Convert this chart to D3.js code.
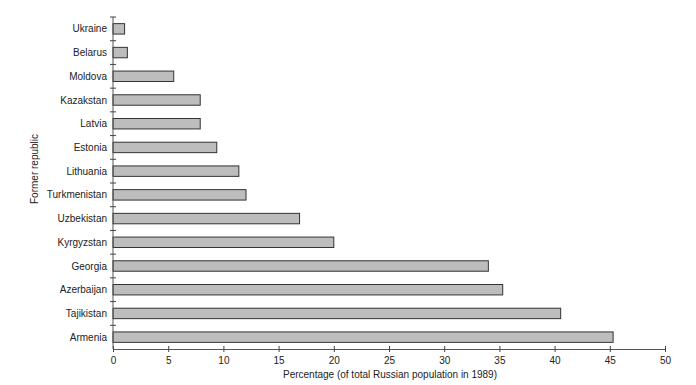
<!DOCTYPE html>
<html>
<head>
<meta charset="utf-8">
<script src="https://cdn.jsdelivr.net/npm/d3@7"></script>
<style>
  body { margin: 0; background: #fff; }
  text { font-family: "Liberation Sans", Arial, sans-serif; fill: #222; }
</style>
</head>
<body>
<div id="chart"></div>
<script>
// Data
const republics = ["Ukraine", "Belarus", "Moldova", "Kazakstan", "Latvia", "Estonia",
    "Lithuania", "Turkmenistan", "Uzbekistan", "Kyrgyzstan", "Georgia", "Azerbaijan",
    "Tajikistan", "Armenia"];
const percentages = [1.05, 1.3, 5.5, 7.9, 7.9, 9.4, 11.4, 12.05, 16.9, 20.0, 34.0, 35.3, 40.55, 45.3];
const xTicks = [0, 5, 10, 15, 20, 25, 30, 35, 40, 45, 50];

const width = 696, height = 385;
const margin = { top: 17, right: 31, bottom: 36, left: 113 };
const w = width - margin.left - margin.right;
const h = height - margin.top - margin.bottom;

const svg = d3.select("#chart")
    .append("svg")
    .attr("width", width)
    .attr("height", height);

const g = svg.append("g")
    .attr("transform", `translate(${margin.left},${margin.top})`);

const data = republics.map((r, i) => ({ name: r, value: percentages[i] }));

const x = d3.scaleLinear().domain([0, 50]).range([0, w]);
const y = d3.scaleBand().domain(republics).range([0, h]).paddingInner(0.56).paddingOuter(0.28);

// Bars
g.append("g")
    .selectAll("rect")
    .data(data)
    .enter()
    .append("rect")
    .attr("x", 0)
    .attr("y", d => y(d.name))
    .attr("width", d => x(d.value))
    .attr("height", y.bandwidth())
    .attr("fill", "#bdbdbd")
    .attr("stroke", "#333")
    .attr("stroke-width", 1);

// X axis
const xAxis = g.append("g")
    .attr("transform", `translate(0,${h})`)
    .call(d3.axisBottom(x).tickValues(xTicks).tickSize(3).tickSizeOuter(0));
xAxis.select(".domain").attr("stroke", "#555");
xAxis.selectAll(".tick line").attr("y1", -3).attr("y2", 3).attr("stroke", "#444");
xAxis.selectAll(".tick text")
    .attr("y", 8)
    .style("font-size", "10px")
    .style("font-family", "'Liberation Sans', Arial, sans-serif")
    .attr("fill", "#222");

// Y axis: line with crossing ticks at band boundaries
const step = y.step();
const boundaries = d3.range(republics.length).map(i => i * step);
g.append("line")
    .attr("x1", 0).attr("x2", 0)
    .attr("y1", 0).attr("y2", h)
    .attr("stroke", "#555");
g.append("g")
    .selectAll("line")
    .data(boundaries)
    .enter()
    .append("line")
    .attr("x1", -3).attr("x2", 3)
    .attr("y1", d => d).attr("y2", d => d)
    .attr("stroke", "#444");

// Category labels
g.append("g")
    .selectAll("text")
    .data(republics)
    .enter()
    .append("text")
    .attr("x", -6)
    .attr("y", d => y(d) + y.bandwidth() / 2)
    .attr("dy", "0.35em")
    .attr("text-anchor", "end")
    .style("font-size", "10px")
    .text(d => d);

// Axis titles
svg.append("text")
    .attr("text-anchor", "middle")
    .attr("x", 390)
    .attr("y", 378)
    .style("font-size", "10px")
    .text("Percentage (of total Russian population in 1989)");

svg.append("text")
    .attr("text-anchor", "middle")
    .attr("transform", "rotate(-90)")
    .attr("x", -169)
    .attr("y", 38)
    .style("font-size", "10px")
    .text("Former republic");
</script>
</body>
</html>
